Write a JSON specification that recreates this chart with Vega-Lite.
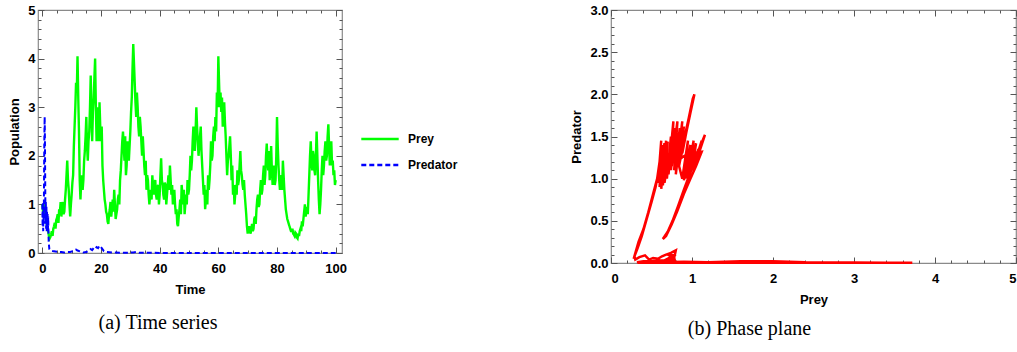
{
"$schema":"https://vega.github.io/schema/vega-lite/v6.json",
"background":"white",
"padding":{"left":8,"top":3,"right":0,"bottom":0},
"spacing":222,
"config":{
 "view":{"stroke":"#8a8a8a","strokeWidth":1.2},
 "axis":{"labelFont":"Liberation Sans","labelFontWeight":"bold","labelFontSize":13,"labelColor":"black","titleFont":"Liberation Sans","titleFontWeight":"bold","titleFontSize":13,"titleColor":"black","grid":false,"domain":false,"tickColor":"#555555","tickWidth":1},
 "title":{"font":"Liberation Serif","fontSize":20,"fontWeight":"normal","orient":"bottom","color":"black"}
},
"datasets":{
 "prey":[{"t":0,"v":1.0},{"t":0.25,"v":0.85},{"t":0.5,"v":0.8},{"t":0.75,"v":1.0},{"t":1,"v":0.9},{"t":1.25,"v":0.7},{"t":1.5,"v":0.6},{"t":1.75,"v":0.5},{"t":2,"v":0.45},{"t":2.25,"v":0.35},{"t":2.5,"v":0.3},{"t":2.75,"v":0.33},{"t":3,"v":0.38},{"t":3.25,"v":0.45},{"t":3.5,"v":0.35},{"t":3.75,"v":0.5},{"t":4,"v":0.55},{"t":4.25,"v":0.62},{"t":4.5,"v":0.5},{"t":4.75,"v":0.68},{"t":5,"v":0.72},{"t":5.25,"v":0.8},{"t":5.5,"v":0.62},{"t":5.75,"v":0.9},{"t":6,"v":0.85},{"t":6.25,"v":1.05},{"t":6.5,"v":0.75},{"t":6.75,"v":0.95},{"t":7,"v":1.05},{"t":7.25,"v":0.8},{"t":7.5,"v":0.85},{"t":7.75,"v":1.1},{"t":8,"v":1.3},{"t":8.25,"v":1.6},{"t":8.5,"v":1.9},{"t":8.75,"v":1.5},{"t":9,"v":1.3},{"t":9.25,"v":1.0},{"t":9.5,"v":0.75},{"t":9.75,"v":1.0},{"t":10,"v":1.2},{"t":10.25,"v":1.45},{"t":10.5,"v":1.6},{"t":10.75,"v":2.2},{"t":11,"v":2.6},{"t":11.25,"v":3.0},{"t":11.5,"v":3.5},{"t":11.75,"v":3.3},{"t":12,"v":4.05},{"t":12.25,"v":3.2},{"t":12.5,"v":2.5},{"t":12.75,"v":1.5},{"t":13,"v":1.1},{"t":13.25,"v":1.45},{"t":13.5,"v":1.6},{"t":13.75,"v":1.3},{"t":14,"v":1.5},{"t":14.25,"v":1.9},{"t":14.5,"v":2.1},{"t":14.75,"v":2.4},{"t":15,"v":2.8},{"t":15.25,"v":2.2},{"t":15.5,"v":1.9},{"t":15.75,"v":2.3},{"t":16,"v":2.5},{"t":16.25,"v":3.0},{"t":16.5,"v":3.65},{"t":16.75,"v":2.8},{"t":17,"v":2.3},{"t":17.25,"v":2.9},{"t":17.5,"v":3.2},{"t":17.75,"v":3.6},{"t":18,"v":4.0},{"t":18.25,"v":3.0},{"t":18.5,"v":2.3},{"t":18.75,"v":3.0},{"t":19,"v":2.8},{"t":19.25,"v":2.3},{"t":19.5,"v":3.1},{"t":19.75,"v":2.6},{"t":20,"v":2.3},{"t":20.25,"v":2.6},{"t":20.5,"v":1.8},{"t":20.75,"v":1.5},{"t":21,"v":1.3},{"t":21.25,"v":1.1},{"t":21.5,"v":1.0},{"t":21.75,"v":0.85},{"t":22,"v":0.8},{"t":22.25,"v":0.65},{"t":22.5,"v":0.6},{"t":22.75,"v":0.8},{"t":23,"v":0.9},{"t":23.25,"v":1.05},{"t":23.5,"v":0.75},{"t":23.75,"v":0.9},{"t":24,"v":1.1},{"t":24.25,"v":0.85},{"t":24.5,"v":1.3},{"t":24.75,"v":1.0},{"t":25,"v":0.7},{"t":25.25,"v":0.8},{"t":25.5,"v":0.9},{"t":25.75,"v":1.1},{"t":26,"v":1.2},{"t":26.25,"v":1.0},{"t":26.5,"v":1.5},{"t":26.75,"v":1.7},{"t":27,"v":2.0},{"t":27.25,"v":2.3},{"t":27.5,"v":2.5},{"t":27.75,"v":2.2},{"t":28,"v":1.9},{"t":28.25,"v":2.4},{"t":28.5,"v":1.6},{"t":28.75,"v":1.8},{"t":29,"v":2.3},{"t":29.25,"v":2.0},{"t":29.5,"v":1.9},{"t":29.75,"v":2.2},{"t":30,"v":2.5},{"t":30.25,"v":2.9},{"t":30.5,"v":3.2},{"t":30.75,"v":3.8},{"t":31,"v":4.3},{"t":31.25,"v":3.9},{"t":31.5,"v":3.5},{"t":31.75,"v":3.1},{"t":32,"v":2.8},{"t":32.25,"v":3.3},{"t":32.5,"v":3.0},{"t":32.75,"v":2.6},{"t":33,"v":2.4},{"t":33.25,"v":2.8},{"t":33.5,"v":2.6},{"t":33.75,"v":2.3},{"t":34,"v":2.0},{"t":34.25,"v":2.4},{"t":34.5,"v":2.1},{"t":34.75,"v":1.8},{"t":35,"v":1.6},{"t":35.25,"v":1.9},{"t":35.5,"v":1.3},{"t":35.75,"v":1.6},{"t":36,"v":1.5},{"t":36.25,"v":1.2},{"t":36.5,"v":1.0},{"t":36.75,"v":1.2},{"t":37,"v":1.3},{"t":37.25,"v":1.1},{"t":37.5,"v":1.6},{"t":37.75,"v":1.35},{"t":38,"v":1.2},{"t":38.25,"v":1.45},{"t":38.5,"v":1.5},{"t":38.75,"v":1.2},{"t":39,"v":1.1},{"t":39.25,"v":1.35},{"t":39.5,"v":1.4},{"t":39.75,"v":1.0},{"t":40,"v":1.2},{"t":40.25,"v":1.6},{"t":40.5,"v":1.95},{"t":40.75,"v":1.5},{"t":41,"v":1.4},{"t":41.25,"v":1.2},{"t":41.5,"v":1.1},{"t":41.75,"v":1.45},{"t":42,"v":1.4},{"t":42.25,"v":1.0},{"t":42.5,"v":1.2},{"t":42.75,"v":1.4},{"t":43,"v":1.6},{"t":43.25,"v":1.3},{"t":43.5,"v":1.8},{"t":43.75,"v":1.5},{"t":44,"v":1.2},{"t":44.25,"v":1.4},{"t":44.5,"v":1.0},{"t":44.75,"v":1.15},{"t":45,"v":1.3},{"t":45.25,"v":1.0},{"t":45.5,"v":0.8},{"t":45.75,"v":0.9},{"t":46,"v":0.6},{"t":46.25,"v":0.55},{"t":46.5,"v":0.75},{"t":46.75,"v":0.9},{"t":47,"v":1.1},{"t":47.25,"v":0.8},{"t":47.5,"v":1.4},{"t":47.75,"v":1.2},{"t":48,"v":1.0},{"t":48.25,"v":1.3},{"t":48.5,"v":0.8},{"t":48.75,"v":1.0},{"t":49,"v":1.2},{"t":49.25,"v":1.0},{"t":49.5,"v":1.5},{"t":49.75,"v":1.2},{"t":50,"v":1.3},{"t":50.25,"v":1.6},{"t":50.5,"v":2.0},{"t":50.75,"v":1.7},{"t":51,"v":1.9},{"t":51.25,"v":2.3},{"t":51.5,"v":2.6},{"t":51.75,"v":2.2},{"t":52,"v":2.1},{"t":52.25,"v":2.5},{"t":52.5,"v":3.0},{"t":52.75,"v":2.6},{"t":53,"v":2.3},{"t":53.25,"v":2.0},{"t":53.5,"v":2.2},{"t":53.75,"v":2.4},{"t":54,"v":2.6},{"t":54.25,"v":2.1},{"t":54.5,"v":1.8},{"t":54.75,"v":1.5},{"t":55,"v":1.2},{"t":55.25,"v":1.4},{"t":55.5,"v":0.9},{"t":55.75,"v":1.1},{"t":56,"v":1.3},{"t":56.25,"v":1.0},{"t":56.5,"v":1.6},{"t":56.75,"v":1.3},{"t":57,"v":1.5},{"t":57.25,"v":1.8},{"t":57.5,"v":2.3},{"t":57.75,"v":1.9},{"t":58,"v":2.0},{"t":58.25,"v":2.4},{"t":58.5,"v":2.6},{"t":58.75,"v":2.3},{"t":59,"v":2.8},{"t":59.25,"v":2.5},{"t":59.5,"v":3.3},{"t":59.75,"v":3.0},{"t":60,"v":4.05},{"t":60.25,"v":3.5},{"t":60.5,"v":3.0},{"t":60.75,"v":3.3},{"t":61,"v":2.9},{"t":61.25,"v":3.2},{"t":61.5,"v":2.6},{"t":61.75,"v":2.9},{"t":62,"v":3.1},{"t":62.25,"v":2.7},{"t":62.5,"v":2.4},{"t":62.75,"v":2.0},{"t":63,"v":1.6},{"t":63.25,"v":1.9},{"t":63.5,"v":2.0},{"t":63.75,"v":2.2},{"t":64,"v":2.4},{"t":64.25,"v":2.0},{"t":64.5,"v":1.5},{"t":64.75,"v":1.8},{"t":65,"v":1.2},{"t":65.25,"v":1.4},{"t":65.5,"v":1.0},{"t":65.75,"v":1.2},{"t":66,"v":1.4},{"t":66.25,"v":1.2},{"t":66.5,"v":1.7},{"t":66.75,"v":1.4},{"t":67,"v":1.5},{"t":67.25,"v":1.8},{"t":67.5,"v":2.1},{"t":67.75,"v":1.7},{"t":68,"v":1.6},{"t":68.25,"v":1.4},{"t":68.5,"v":1.3},{"t":68.75,"v":1.5},{"t":69,"v":1.2},{"t":69.25,"v":1.0},{"t":69.5,"v":0.8},{"t":69.75,"v":0.55},{"t":70,"v":0.4},{"t":70.25,"v":0.5},{"t":70.5,"v":0.55},{"t":70.75,"v":0.45},{"t":71,"v":0.4},{"t":71.25,"v":0.5},{"t":71.5,"v":0.6},{"t":71.75,"v":0.45},{"t":72,"v":0.5},{"t":72.25,"v":0.7},{"t":72.5,"v":0.75},{"t":72.75,"v":0.6},{"t":73,"v":0.9},{"t":73.25,"v":1.1},{"t":73.5,"v":1.2},{"t":73.75,"v":0.95},{"t":74,"v":1.0},{"t":74.25,"v":1.3},{"t":74.5,"v":1.5},{"t":74.75,"v":1.2},{"t":75,"v":1.3},{"t":75.25,"v":1.6},{"t":75.5,"v":1.8},{"t":75.75,"v":1.4},{"t":76,"v":1.6},{"t":76.25,"v":2.0},{"t":76.5,"v":2.25},{"t":76.75,"v":1.9},{"t":77,"v":1.7},{"t":77.25,"v":2.1},{"t":77.5,"v":1.5},{"t":77.75,"v":1.8},{"t":78,"v":2.2},{"t":78.25,"v":1.7},{"t":78.5,"v":1.4},{"t":78.75,"v":1.6},{"t":79,"v":1.8},{"t":79.25,"v":1.4},{"t":79.5,"v":1.5},{"t":79.75,"v":2.0},{"t":80,"v":2.8},{"t":80.25,"v":2.2},{"t":80.5,"v":1.8},{"t":80.75,"v":1.5},{"t":81,"v":1.3},{"t":81.25,"v":1.5},{"t":81.5,"v":1.6},{"t":81.75,"v":1.3},{"t":82,"v":1.9},{"t":82.25,"v":1.6},{"t":82.5,"v":1.3},{"t":82.75,"v":1.1},{"t":83,"v":0.9},{"t":83.25,"v":0.8},{"t":83.5,"v":0.7},{"t":83.75,"v":0.65},{"t":84,"v":0.6},{"t":84.25,"v":0.55},{"t":84.5,"v":0.5},{"t":84.75,"v":0.45},{"t":85,"v":0.45},{"t":85.25,"v":0.5},{"t":85.5,"v":0.4},{"t":85.75,"v":0.38},{"t":86,"v":0.35},{"t":86.25,"v":0.42},{"t":86.5,"v":0.4},{"t":86.75,"v":0.32},{"t":87,"v":0.3},{"t":87.25,"v":0.4},{"t":87.5,"v":0.35},{"t":87.75,"v":0.45},{"t":88,"v":0.5},{"t":88.25,"v":0.45},{"t":88.5,"v":0.65},{"t":88.75,"v":0.55},{"t":89,"v":0.7},{"t":89.25,"v":0.85},{"t":89.5,"v":1.0},{"t":89.75,"v":0.75},{"t":90,"v":0.85},{"t":90.25,"v":0.95},{"t":90.5,"v":0.8},{"t":90.75,"v":1.2},{"t":91,"v":1.6},{"t":91.25,"v":2.0},{"t":91.5,"v":2.3},{"t":91.75,"v":1.9},{"t":92,"v":1.7},{"t":92.25,"v":2.1},{"t":92.5,"v":2.0},{"t":92.75,"v":1.7},{"t":93,"v":1.6},{"t":93.25,"v":2.0},{"t":93.5,"v":2.5},{"t":93.75,"v":2.0},{"t":94,"v":1.5},{"t":94.25,"v":1.1},{"t":94.5,"v":0.8},{"t":94.75,"v":1.0},{"t":95,"v":1.3},{"t":95.25,"v":1.7},{"t":95.5,"v":2.0},{"t":95.75,"v":1.6},{"t":96,"v":1.8},{"t":96.25,"v":2.1},{"t":96.5,"v":2.3},{"t":96.75,"v":1.9},{"t":97,"v":2.0},{"t":97.25,"v":2.4},{"t":97.5,"v":2.65},{"t":97.75,"v":2.2},{"t":98,"v":1.8},{"t":98.25,"v":2.0},{"t":98.5,"v":2.3},{"t":98.75,"v":1.8},{"t":99,"v":1.9},{"t":99.25,"v":1.6},{"t":99.5,"v":1.7},{"t":99.75,"v":1.4},{"t":100,"v":1.5}],
 "pred":[{"t":0,"v":1.0},{"t":0.1,"v":0.55},{"t":0.2,"v":1.05},{"t":0.3,"v":0.45},{"t":0.4,"v":0.95},{"t":0.5,"v":0.6},{"t":0.6,"v":1.6},{"t":0.7,"v":2.4},{"t":0.8,"v":2.8},{"t":0.9,"v":2.3},{"t":1.0,"v":1.3},{"t":1.1,"v":0.6},{"t":1.2,"v":1.05},{"t":1.3,"v":0.5},{"t":1.4,"v":0.95},{"t":1.5,"v":0.45},{"t":1.6,"v":0.85},{"t":1.7,"v":0.5},{"t":1.8,"v":0.8},{"t":1.9,"v":0.45},{"t":2.0,"v":0.75},{"t":2.1,"v":0.4},{"t":2.2,"v":0.2},{"t":2.4,"v":0.08},{"t":2.8,"v":0.05},{"t":3.5,"v":0.04},{"t":4.5,"v":0.03},{"t":5.5,"v":0.02},{"t":6.5,"v":0.02},{"t":7.5,"v":0.01},{"t":8.5,"v":0.02},{"t":9.5,"v":0.02},{"t":10.5,"v":0.04},{"t":11,"v":0.06},{"t":11.5,"v":0.07},{"t":12,"v":0.05},{"t":13,"v":0.03},{"t":14,"v":0.01},{"t":15,"v":0.02},{"t":16,"v":0.05},{"t":16.5,"v":0.08},{"t":17,"v":0.06},{"t":17.5,"v":0.1},{"t":18,"v":0.08},{"t":18.5,"v":0.12},{"t":19,"v":0.1},{"t":19.5,"v":0.15},{"t":20,"v":0.12},{"t":20.5,"v":0.08},{"t":21,"v":0.04},{"t":22,"v":0.02},{"t":24,"v":0.01},{"t":28,"v":0.005},{"t":31,"v":0.01},{"t":32,"v":0.02},{"t":33,"v":0.005},{"t":40,"v":0.002},{"t":60,"v":0.001},{"t":80,"v":0},{"t":100,"v":0}],
 "phase":[{"i":1,"x":0.28,"y":0.05},{"i":2,"x":0.34,"y":0.25},{"i":3,"x":0.4,"y":0.4},{"i":4,"x":0.46,"y":0.6},{"i":5,"x":0.52,"y":0.82},{"i":6,"x":0.57,"y":1.0},{"i":7,"x":0.6,"y":1.2},{"i":8,"x":0.62,"y":1.45},{"i":9,"x":0.58,"y":0.95},{"i":10,"x":0.63,"y":1.4},{"i":11,"x":0.6,"y":0.9},{"i":12,"x":0.66,"y":1.42},{"i":13,"x":0.62,"y":0.88},{"i":14,"x":0.68,"y":1.45},{"i":15,"x":0.64,"y":0.92},{"i":16,"x":0.7,"y":1.44},{"i":17,"x":0.66,"y":0.95},{"i":18,"x":0.72,"y":1.3},{"i":19,"x":0.69,"y":1.0},{"i":20,"x":0.74,"y":1.5},{"i":21,"x":0.71,"y":1.05},{"i":22,"x":0.77,"y":1.68},{"i":23,"x":0.74,"y":1.1},{"i":24,"x":0.79,"y":1.6},{"i":25,"x":0.75,"y":1.15},{"i":26,"x":0.82,"y":1.68},{"i":27,"x":0.78,"y":1.1},{"i":28,"x":0.85,"y":1.6},{"i":29,"x":0.8,"y":1.05},{"i":30,"x":0.88,"y":1.68},{"i":31,"x":0.83,"y":1.15},{"i":32,"x":0.9,"y":1.62},{"i":33,"x":0.85,"y":1.2},{"i":34,"x":0.92,"y":1.5},{"i":35,"x":0.88,"y":1.3},{"i":36,"x":0.93,"y":1.55},{"i":37,"x":0.98,"y":1.78},{"i":38,"x":1.03,"y":2.0},{"i":39,"x":1.01,"y":1.95},{"i":40,"x":0.96,"y":1.72},{"i":41,"x":0.91,"y":1.5},{"i":42,"x":0.87,"y":1.3},{"i":43,"x":0.84,"y":1.15},{"i":44,"x":0.88,"y":1.0},{"i":45,"x":0.95,"y":1.45},{"i":46,"x":0.9,"y":0.98},{"i":47,"x":0.98,"y":1.4},{"i":48,"x":0.93,"y":1.0},{"i":49,"x":1.02,"y":1.45},{"i":50,"x":0.97,"y":1.05},{"i":51,"x":1.05,"y":1.42},{"i":52,"x":1.0,"y":1.1},{"i":53,"x":1.08,"y":1.35},{"i":54,"x":1.02,"y":1.15},{"i":55,"x":1.12,"y":1.45},{"i":56,"x":1.05,"y":1.2},{"i":57,"x":1.16,"y":1.52},{"i":58,"x":1.1,"y":1.38},{"i":59,"x":1.04,"y":1.22},{"i":60,"x":0.97,"y":1.05},{"i":61,"x":0.9,"y":0.87},{"i":62,"x":0.83,"y":0.68},{"i":63,"x":0.76,"y":0.5},{"i":64,"x":0.7,"y":0.37},{"i":65,"x":0.64,"y":0.285},{"i":66,"x":0.68,"y":0.32},{"i":67,"x":0.75,"y":0.46},{"i":68,"x":0.82,"y":0.62},{"i":69,"x":0.9,"y":0.82},{"i":70,"x":0.98,"y":1.0},{"i":71,"x":1.05,"y":1.15},{"i":72,"x":1.12,"y":1.32},{"i":73,"x":0.95,"y":1.3},{"i":74,"x":0.8,"y":1.2},{"i":75,"x":0.65,"y":1.3},{"i":76,"x":0.6,"y":1.15},{"i":77,"x":0.55,"y":0.9},{"i":78,"x":0.5,"y":0.72},{"i":79,"x":0.44,"y":0.52},{"i":80,"x":0.38,"y":0.32},{"i":81,"x":0.33,"y":0.18},{"i":82,"x":0.29,"y":0.08},{"i":83,"x":0.3,"y":0.04},{"i":84,"x":0.35,"y":0.07},{"i":85,"x":0.42,"y":0.09},{"i":86,"x":0.47,"y":0.04},{"i":87,"x":0.52,"y":0.06},{"i":88,"x":0.58,"y":0.05},{"i":89,"x":0.63,"y":0.08},{"i":90,"x":0.68,"y":0.1},{"i":91,"x":0.74,"y":0.12},{"i":92,"x":0.8,"y":0.15},{"i":93,"x":0.78,"y":0.06},{"i":94,"x":0.72,"y":0.09},{"i":95,"x":0.8,"y":0.1},{"i":96,"x":0.7,"y":0.05},{"i":97,"x":0.8,"y":0.04},{"i":98,"x":0.6,"y":0.03},{"i":99,"x":0.5,"y":0.02},{"i":100,"x":0.4,"y":0.02},{"i":101,"x":0.32,"y":0.01},{"i":102,"x":0.6,"y":0.01},{"i":103,"x":0.9,"y":0.015},{"i":104,"x":1.2,"y":0.01},{"i":105,"x":1.6,"y":0.02},{"i":106,"x":2.0,"y":0.02},{"i":107,"x":2.4,"y":0.008},{"i":108,"x":3.0,"y":0.005},{"i":109,"x":3.4,"y":0.003},{"i":110,"x":3.72,"y":0.002},{"i":111,"x":3.0,"y":0.002},{"i":112,"x":2.0,"y":0.004},{"i":113,"x":1.0,"y":0.003},{"i":114,"x":0.33,"y":0.002}]
},
"hconcat":[
 {
  "width":304,"height":243,
  "title":{"text":"(a) Time series","dx":-32,"offset":17},
  "resolve":{"axis":{"x":"independent","y":"independent"}},
  "layer":[
   {"data":{"name":"prey"},"mark":{"type":"line","strokeWidth":2.4},
    "encoding":{
     "x":{"field":"t","type":"quantitative","scale":{"domain":[-1.47,102.15],"nice":false,"zero":false},"axis":{"orient":"bottom","values":[0,20,40,60,80,100],"title":"Time","offset":-6,"tickSize":6,"labelPadding":9,"titlePadding":8}},
     "y":{"field":"v","type":"quantitative","scale":{"domain":[0,5],"nice":false},"axis":{"orient":"left","values":[0,1,2,3,4,5],"format":"d","title":"Population","offset":-6,"tickSize":6,"labelPadding":3,"titlePadding":6}},
     "color":{"datum":"Prey","scale":{"domain":["Prey","Predator"],"range":["#00ff00","#0000ff"]},"legend":{"title":null,"orient":"none","legendX":322,"legendY":109,"symbolType":"stroke","symbolSize":1400,"symbolStrokeWidth":2.5,"labelFont":"Liberation Sans","labelFontWeight":"bold","labelFontSize":12,"labelColor":"black","rowPadding":0,"labelOffset":8}},
     "strokeDash":{"datum":"Prey","scale":{"domain":["Prey","Predator"],"range":[[1,0],[5,3]]},"legend":{"title":null,"orient":"none","legendX":322,"legendY":109,"symbolType":"stroke","symbolSize":1400,"symbolStrokeWidth":2.5,"labelFont":"Liberation Sans","labelFontWeight":"bold","labelFontSize":12,"labelColor":"black","rowPadding":0,"labelOffset":8}}
    }},
   {"data":{"name":"pred"},"mark":{"type":"line","strokeWidth":2},
    "encoding":{
     "x":{"field":"t","type":"quantitative","axis":{"orient":"top","values":[0,20,40,60,80,100],"labels":false,"title":null,"offset":-6,"tickSize":6}},
     "y":{"field":"v","type":"quantitative","axis":{"orient":"right","values":[0,1,2,3,4,5],"labels":false,"title":null,"offset":-6,"tickSize":6}},
     "color":{"datum":"Predator"},
     "strokeDash":{"datum":"Predator"}
    }},
   {"data":{"name":"pred"},"mark":{"type":"line","opacity":0},
    "encoding":{
     "x":{"field":"t","type":"quantitative","axis":{"orient":"bottom","values":[5,10,15,25,30,35,45,50,55,65,70,75,85,90,95],"labels":false,"title":null,"offset":-3,"tickSize":3}},
     "y":{"field":"v","type":"quantitative","axis":{"orient":"left","values":[0.2,0.4,0.6,0.8,1.2,1.4,1.6,1.8,2.2,2.4,2.6,2.8,3.2,3.4,3.6,3.8,4.2,4.4,4.6,4.8],"labels":false,"title":null,"offset":-3,"tickSize":3}}
    }},
   {"data":{"name":"pred"},"mark":{"type":"line","opacity":0},
    "encoding":{
     "x":{"field":"t","type":"quantitative","axis":{"orient":"top","values":[5,10,15,25,30,35,45,50,55,65,70,75,85,90,95],"labels":false,"title":null,"offset":-3,"tickSize":3}},
     "y":{"field":"v","type":"quantitative","axis":{"orient":"right","values":[0.2,0.4,0.6,0.8,1.2,1.4,1.6,1.8,2.2,2.4,2.6,2.8,3.2,3.4,3.6,3.8,4.2,4.4,4.6,4.8],"labels":false,"title":null,"offset":-3,"tickSize":3}}
    }}
  ]
 },
 {
  "width":405,"height":253,
  "title":{"text":"(b) Phase plane","dx":-64,"offset":13},
  "data":{"name":"phase"},
  "resolve":{"axis":{"x":"independent","y":"independent"}},
  "layer":[
   {"mark":{"type":"line","color":"#ff0000","strokeWidth":2.5},
    "encoding":{
     "x":{"field":"x","type":"quantitative","scale":{"domain":[0,5],"nice":false},"axis":{"orient":"bottom","values":[0,1,2,3,4,5],"format":"d","title":"Prey","offset":-6,"tickSize":6,"labelPadding":9,"titlePadding":8}},
     "y":{"field":"y","type":"quantitative","scale":{"domain":[0,3],"nice":false},"axis":{"orient":"left","values":[0,0.5,1,1.5,2,2.5,3],"format":".1f","title":"Predator","offset":-6,"tickSize":6,"labelPadding":3,"titlePadding":6}},
     "order":{"field":"i","type":"quantitative"}
    }},
   {"mark":{"type":"line","opacity":0},
    "encoding":{
     "x":{"field":"x","type":"quantitative","axis":{"orient":"top","values":[0,1,2,3,4,5],"labels":false,"title":null,"offset":-6,"tickSize":6}},
     "y":{"field":"y","type":"quantitative","axis":{"orient":"right","values":[0,0.5,1,1.5,2,2.5,3],"labels":false,"title":null,"offset":-6,"tickSize":6}}
    }},
   {"mark":{"type":"line","opacity":0},
    "encoding":{
     "x":{"field":"x","type":"quantitative","axis":{"orient":"bottom","values":[0.2,0.4,0.6,0.8,1.2,1.4,1.6,1.8,2.2,2.4,2.6,2.8,3.2,3.4,3.6,3.8,4.2,4.4,4.6,4.8],"labels":false,"title":null,"offset":-3,"tickSize":3}},
     "y":{"field":"y","type":"quantitative","axis":{"orient":"left","values":[0.1,0.2,0.3,0.4,0.6,0.7,0.8,0.9,1.1,1.2,1.3,1.4,1.6,1.7,1.8,1.9,2.1,2.2,2.3,2.4,2.6,2.7,2.8,2.9],"labels":false,"title":null,"offset":-3,"tickSize":3}}
    }},
   {"mark":{"type":"line","opacity":0},
    "encoding":{
     "x":{"field":"x","type":"quantitative","axis":{"orient":"top","values":[0.2,0.4,0.6,0.8,1.2,1.4,1.6,1.8,2.2,2.4,2.6,2.8,3.2,3.4,3.6,3.8,4.2,4.4,4.6,4.8],"labels":false,"title":null,"offset":-3,"tickSize":3}},
     "y":{"field":"y","type":"quantitative","axis":{"orient":"right","values":[0.1,0.2,0.3,0.4,0.6,0.7,0.8,0.9,1.1,1.2,1.3,1.4,1.6,1.7,1.8,1.9,2.1,2.2,2.3,2.4,2.6,2.7,2.8,2.9],"labels":false,"title":null,"offset":-3,"tickSize":3}}
    }}
  ]
 }
]
}
